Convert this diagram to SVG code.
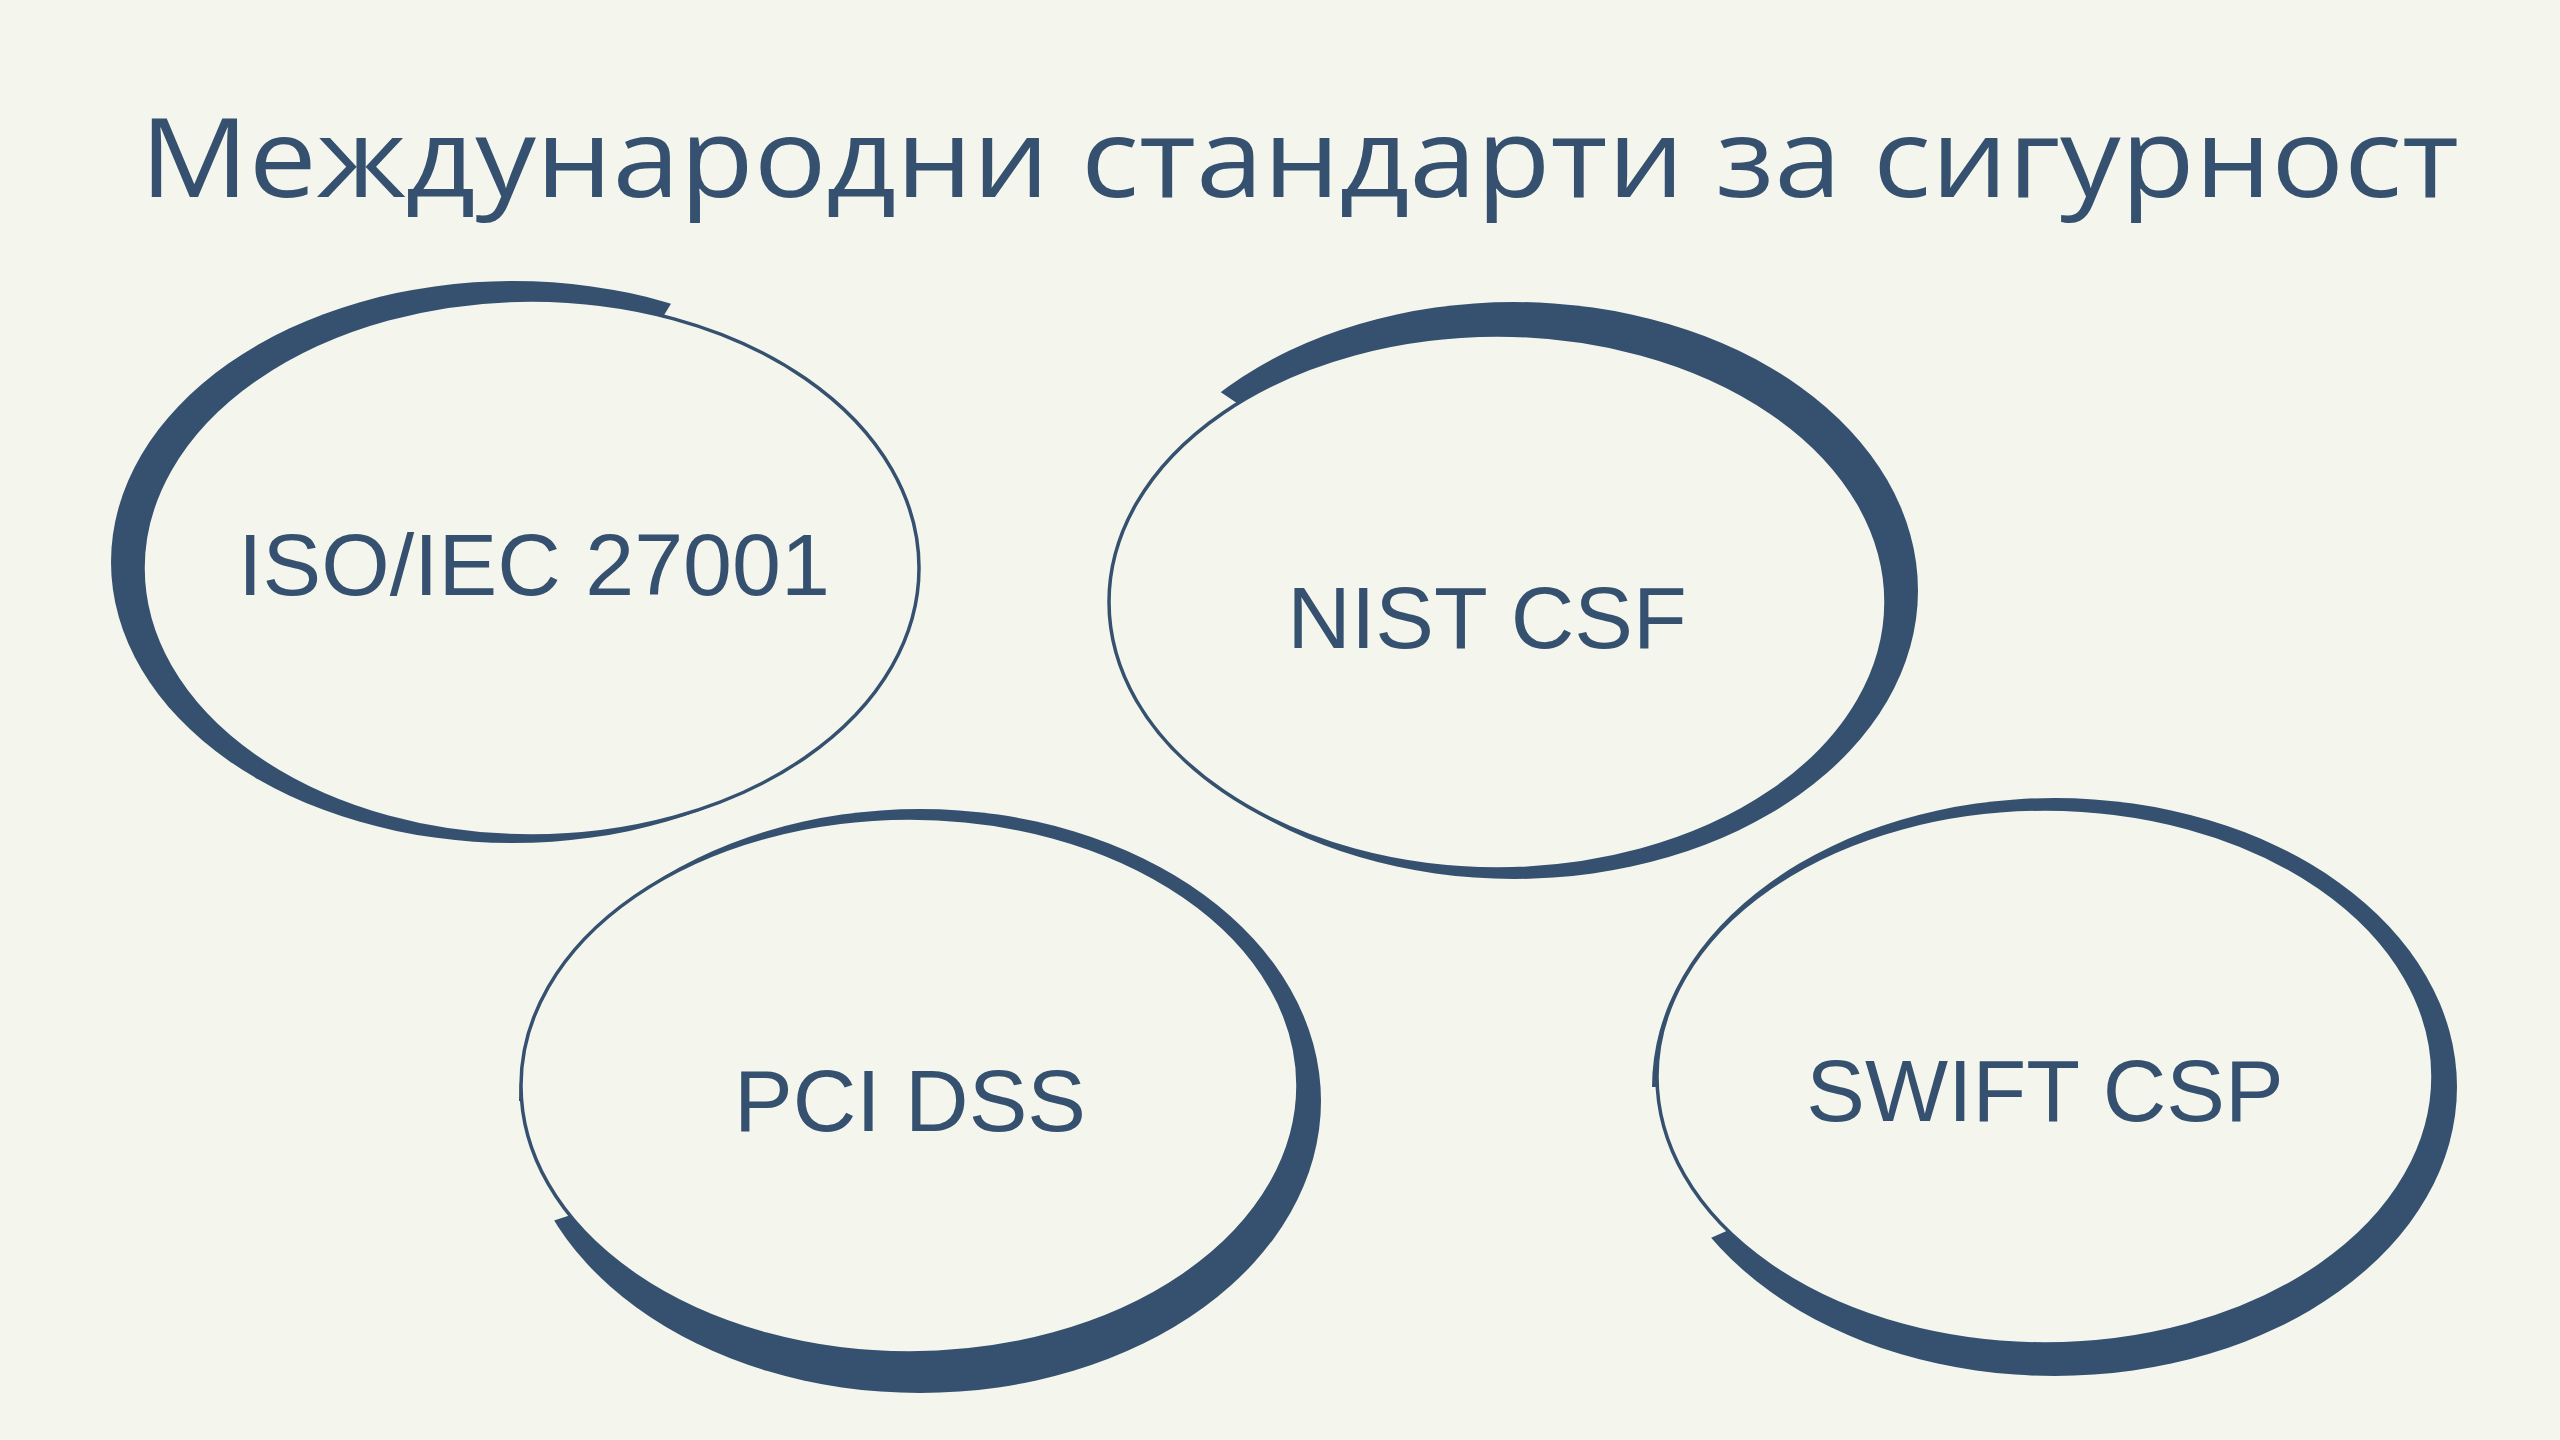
<svg xmlns="http://www.w3.org/2000/svg" width="2560" height="1440" viewBox="0 0 2560 1440">
  <style>
    .bg { fill: #f4f6ed; }
    .brush { fill: #35516f; }
    .ring { fill: #f4f6ed; stroke: #35516f; stroke-width: 3.5; }
    .label { font-family: "Liberation Sans", Arial, sans-serif; font-size: 88px; fill: #35516f; text-anchor: middle; }
    .title { font-family: "Open Sans", "Noto Sans", "DejaVu Sans", sans-serif; font-size: 109px; fill: #35516f; }
  </style>
  <defs>
    <clipPath id="clip-iso"><polygon points="513,562 825,52 -100,52 -100,1000 1100,1000 1100,562"/></clipPath>
    <clipPath id="clip-nist"><polygon points="1514,590 370,-182 3000,-182 3000,2000 0,2000 0,590"/></clipPath>
    <clipPath id="clip-pci"><polygon points="920,1101 -500,1101 -500,0 2000,0 2000,2000 -488,1561"/></clipPath>
    <clipPath id="clip-swift"><polygon points="2054,1087 1000,1087 1000,0 3000,0 3000,2000 726,1671"/></clipPath>
  </defs>
  <rect class="bg" x="0" y="0" width="2560" height="1440"/>
  <text class="title" x="140" y="197" textLength="2319" lengthAdjust="spacingAndGlyphs">Международни стандарти за сигурност</text>
  <g id="node-iso">
    <ellipse class="brush" cx="513" cy="562" rx="402" ry="281" clip-path="url(#clip-iso)"/>
    <ellipse class="ring" cx="531" cy="568" rx="388" ry="268"/>
    <text class="label" x="534" y="595">ISO/IEC 27001</text>
  </g>
  <g id="node-nist">
    <ellipse class="brush" cx="1514" cy="590.5" rx="404" ry="288.5" clip-path="url(#clip-nist)"/>
    <ellipse class="ring" cx="1497.5" cy="602" rx="388.5" ry="267"/>
    <text class="label" x="1487" y="648">NIST CSF</text>
  </g>
  <g id="node-pci">
    <ellipse class="brush" cx="920" cy="1101" rx="401" ry="292" clip-path="url(#clip-pci)"/>
    <ellipse class="ring" cx="909.5" cy="1085.5" rx="388.5" ry="267.5"/>
    <text class="label" x="910" y="1131">PCI DSS</text>
  </g>
  <g id="node-swift">
    <ellipse class="brush" cx="2054.5" cy="1087" rx="402.5" ry="289" clip-path="url(#clip-swift)"/>
    <ellipse class="ring" cx="2045" cy="1076.5" rx="388" ry="267.5"/>
    <text class="label" x="2045" y="1121">SWIFT CSP</text>
  </g>
  <g id="connectors"/>
</svg>
